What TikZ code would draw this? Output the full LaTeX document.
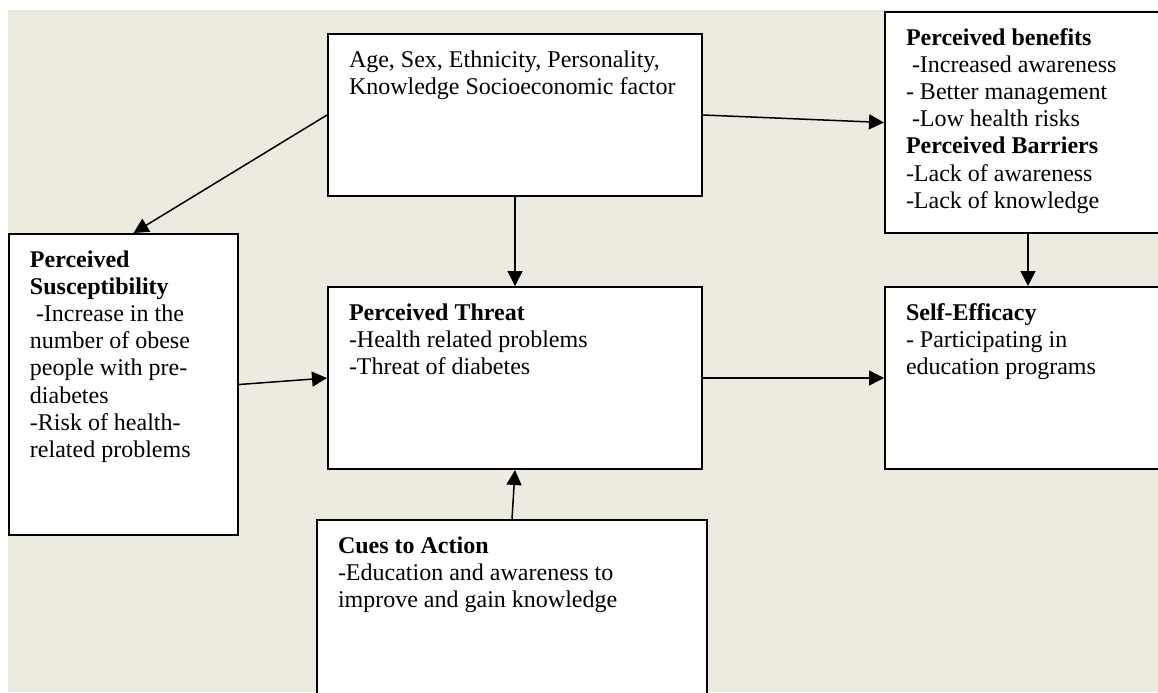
\documentclass[tikz,border=0pt]{standalone}
\usepackage{fontspec}
\setmainfont{Liberation Serif}
\usetikzlibrary{arrows.meta}

\definecolor{paper}{RGB}{237,234,224}
% text block of a box: width, height, contents
\newcommand{\boxtext}[3]{\parbox[t][#2][t]{#1}{\raggedright\strut #3}}

\begin{document}
\begin{tikzpicture}[
		x = 0.5pt, y = -0.5pt, % one unit = one pixel
		> = {Triangle[length=7.5pt, width=7.5pt]}, % arrow head style
		line width = 0.75pt, % line style
		font = \fontsize{12}{13.6}\selectfont
		]
		
		\tikzstyle{factor box}=[
		draw = black,
		line width = 1pt,
		fill = white,
		anchor = north west,
		inner xsep = 10.5pt,
		inner ysep = 7pt
		]
		
		\useasboundingbox (0,0) rectangle (1158,692);
		\clip (0,0) rectangle (1158,692);
		\fill[paper] (8,10) rectangle (1158,692);
		
		\node[factor box] (demo) at (327,33) {\boxtext{166pt}{67pt}{Age, Sex, Ethnicity, Personality,\\Knowledge Socioeconomic factor}};
		\node[factor box] (bene) at (884,11) {\boxtext{122pt}{96.5pt}{\textbf{Perceived benefits}\\\ -Increased awareness\\- Better management\\\ -Low health risks\\\textbf{Perceived Barriers}\\-Lack of awareness\\-Lack of knowledge}};
		\node[factor box] (susc) at (8,233) {\boxtext{93.5pt}{136.5pt}{\textbf{Perceived}\\\textbf{Susceptibility}\\\ -Increase in the\\number of obese\\people with pre-\\diabetes\\-Risk of health-\\related problems}};
		\node[factor box] (threat) at (327,286) {\boxtext{166pt}{77pt}{\textbf{Perceived Threat}\\-Health related problems\\-Threat of diabetes}};
		\node[factor box] (self) at (884,286) {\boxtext{122pt}{77pt}{\textbf{Self-Efficacy}\\- Participating in\\education programs}};
		\node[factor box] (cues) at (316,519) {\boxtext{174pt}{76.5pt}{\textbf{Cues to Action}\\-Education and awareness to\\improve and gain knowledge}};
		
		\path[->]
		(demo.west)		edge [] ([xshift=5pt]susc.north)
		(demo.east)		edge [] (bene.west)
		(demo.south)	edge [] (threat.north)
		(bene.south)	edge [] (self.north)
		(susc.east)		edge [] (threat.west)
		(threat.east)	edge [] (self.west)
		(cues.north)	edge [] (threat.south)
		;
	\end{tikzpicture}
\end{document}
